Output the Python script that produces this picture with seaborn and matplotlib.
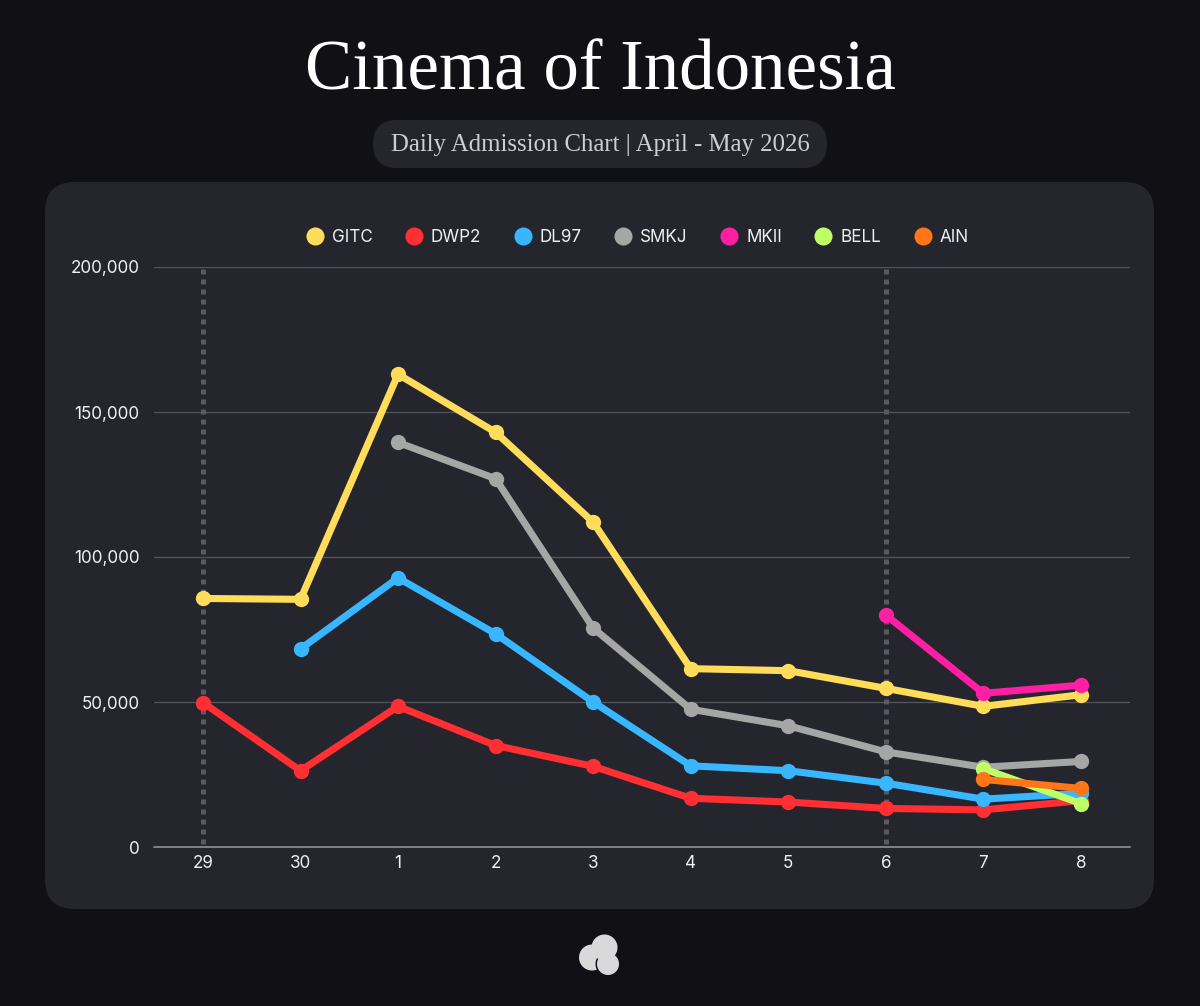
import numpy as np
import pandas as pd
import matplotlib
matplotlib.use("Agg")
import matplotlib.pyplot as plt
from matplotlib.lines import Line2D
from matplotlib.patches import Circle, FancyBboxPatch
import seaborn as sns

days = ["29", "30", "1", "2", "3", "4", "5", "6", "7", "8"]
y_ticks = [0, 50000, 100000, 150000, 200000]
highlight_days = ["29", "6"]

GITC = [85700, 85400, 163000, 143000, 112000, 61500, 60800, 54700, 48500, 52500]
DWP2 = [49800, 26300, 48500, 35000, 27800, 16800, 15500, 13300, 12800, 16000]
DL97 = [None, 68300, 92800, 73500, 50000, 28000, 26300, 22000, 16500, 18500]
SMKJ = [None, None, 139500, 127000, 75500, 47500, 41800, 32800, 27500, 29500]
MKII = [None, None, None, None, None, None, None, 80000, 53000, 55800]
BELL = [None, None, None, None, None, None, None, None, 27000, 15000]
AIN = [None, None, None, None, None, None, None, None, 23300, 20200]

names = ["GITC", "DWP2", "DL97", "SMKJ", "MKII", "BELL", "AIN"]
series = [GITC, DWP2, DL97, SMKJ, MKII, BELL, AIN]
colors = ["#FFDC5A", "#FF2F33", "#38B6FF", "#A6A6A6", "#FF1FA5", "#BEFF66", "#FF7518"]

BG = "#111115"
PANEL = "#25262D"
W, H = 1200, 1006

df = pd.DataFrame({"day": range(len(days)), **dict(zip(names, series))})
df = df.melt(id_vars="day", var_name="film", value_name="admissions").dropna()

sns.set_theme(style="dark")
plt.rcParams["font.family"] = ["Inter", "DejaVu Sans"]

fig = plt.figure(figsize=(W / 100, H / 100), dpi=100, facecolor=BG)


def px_box(x0, y0, x1, y1):
    # pixel box, top-left origin, to figure fraction
    return [x0 / W, 1 - y1 / H, (x1 - x0) / W, (y1 - y0) / H]


# full figure layer in pixel coords for the panel, pill and logo
bg = fig.add_axes([0, 0, 1, 1], zorder=0)
bg.set_xlim(0, W)
bg.set_ylim(H, 0)
bg.axis("off")
bg.add_patch(FancyBboxPatch((45 + 30, 182 + 30), 1109 - 60, 727 - 60,
                            boxstyle="round,pad=30,rounding_size=30", fc=PANEL, ec="none"))
bg.add_patch(FancyBboxPatch((373 + 24, 120 + 24), 454 - 48, 0.01,
                            boxstyle="round,pad=24,rounding_size=24", fc=PANEL, ec="none"))

bg.text(600, 72, "Cinema of Indonesia", color="white", ha="center", va="center",
        fontsize=51, family=["Liberation Serif"])
bg.text(600, 145, "Daily Admission Chart | April - May 2026", color="#CFCFCF", ha="center",
        va="center", fontsize=17.85, family=["Liberation Serif"])

# logo: left blob is cut by a thin gap around the lower one, top blob merges with both
bg.add_patch(Circle((592, 957.5), 13, fc="#D9D9D9", ec="none"))
bg.add_patch(Circle((608, 964), 12.5, fc=BG, ec="none"))
bg.add_patch(Circle((608, 964), 11, fc="#D9D9D9", ec="none"))
bg.add_patch(Circle((604.5, 947.5), 13, fc="#D9D9D9", ec="none"))

ax = fig.add_axes(px_box(154.2, 267, 1129.7, 847), zorder=1)
ax.patch.set_alpha(0)

for tick in y_ticks[1:]:
    ax.axhline(tick, color="#55565B", lw=0.9, zorder=1)
ax.axhline(0, color="#8A8A8D", lw=1.3, zorder=1, clip_on=False)
for day in highlight_days:
    ax.plot([days.index(day)] * 2, [1000, 200000], color="#5A5A5E", lw=3.6,
            dashes=(1, 1.0), zorder=1.5, solid_capstyle="butt")

sns.lineplot(data=df, x="day", y="admissions", hue="film", hue_order=names, palette=colors,
             marker="o", markersize=11, markeredgewidth=0, linewidth=5.1, sort=False,
             errorbar=None, legend=False, ax=ax, zorder=3)

ax.set_xlim(-0.5, len(days) - 0.5)
ax.set_ylim(0, 200000)
ax.set_xticks(range(len(days)), days)
ax.set_yticks(y_ticks, [f"{t:,}" for t in y_ticks])
ax.set_xlabel("")
ax.set_ylabel("")
ax.grid(False)
for spine in ax.spines.values():
    spine.set_visible(False)
ax.tick_params(axis="both", length=0, labelsize=12.3, labelcolor="#F0F0F0")
ax.tick_params(axis="x", pad=6)
ax.tick_params(axis="y", pad=10.5)

handles = [Line2D([], [], ls="none", marker="o", ms=13, mew=0, color=c) for c in colors]
leg = ax.legend(handles, names, ncol=len(names), loc="center", bbox_to_anchor=(0.491, 1.0515),
                frameon=False, handletextpad=0.0, columnspacing=1.42, fontsize=12.3)
for t in leg.get_texts():
    t.set_color("#F0F0F0")

fig.savefig("out.png", dpi=100, facecolor=BG)
